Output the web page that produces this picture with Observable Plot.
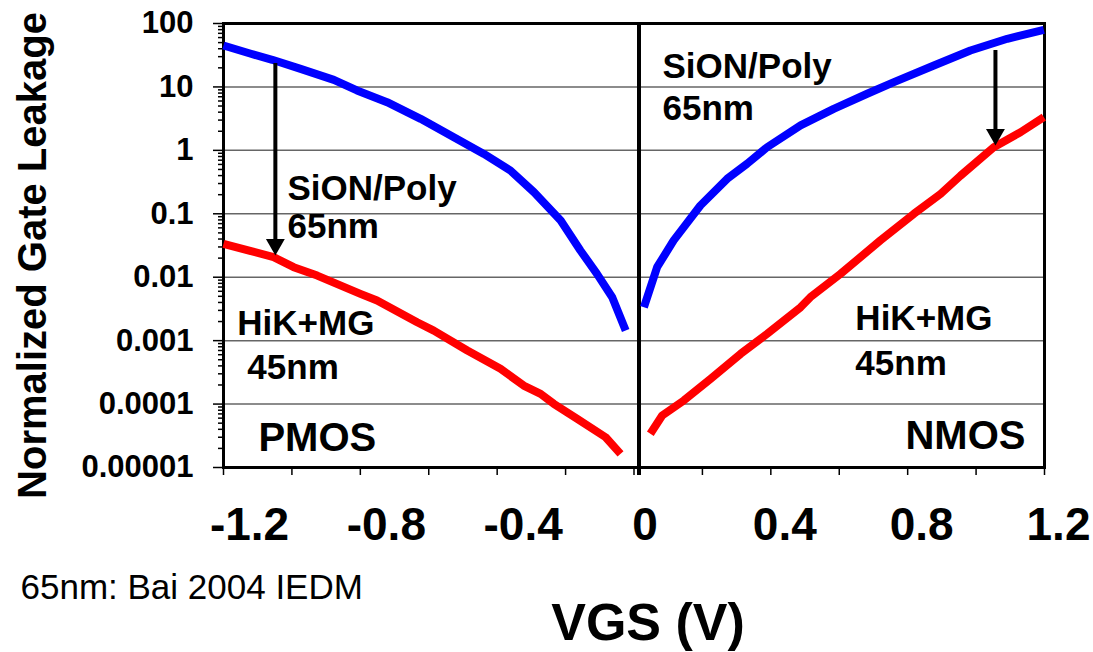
<!DOCTYPE html>
<html>
<head>
<meta charset="utf-8">
<script src="https://cdn.jsdelivr.net/npm/d3@7"></script>
<script src="https://cdn.jsdelivr.net/npm/@observablehq/plot@0.6"></script>
<style>
  html, body { margin: 0; padding: 0; background: white; }
</style>
</head>
<body>
<div id="chart"></div>
<script>
// ---- data (VGS in volts, normalized gate leakage) ----
const pmosSionVgs  = [-1.2, -1.120, -1.0575, -0.9746, -0.8775, -0.8098, -0.7218, -0.6238, -0.5267, -0.4388, -0.3609, -0.2922, -0.2143, -0.1567, -0.1082, -0.0637, -0.0243];
const pmosSionLeak = [45, 33.3, 26.8, 19.3, 12.9, 8.8, 5.75, 3.14, 1.61, 0.88, 0.48, 0.219, 0.0783, 0.0264, 0.0113, 0.00484, 0.00145];

const pmosHikVgs  = [-1.2, -1.0534, -0.9948, -0.9260, -0.7997, -0.7511, -0.6339, -0.5853, -0.4873, -0.3902, -0.3225, -0.2730, -0.2345, -0.1658, -0.0829, -0.0394];
const pmosHikLeak = [0.0336, 0.0207, 0.0144, 0.0106, 0.00547, 0.0043, 0.00195, 0.00144, 0.0007, 0.00036, 0.000196, 0.000145, 0.000101, 0.0000586, 0.00003, 0.0000164];

const nmosSionVgs  = [0.0290, 0.0675, 0.1160, 0.1457, 0.1941, 0.2723, 0.3306, 0.3890, 0.4869, 0.5838, 0.6817, 0.7599, 0.8766, 0.9834, 1.0912, 1.198];
const nmosSionLeak = [0.00336, 0.0144, 0.038, 0.0615, 0.135, 0.356, 0.614, 1.12, 2.47, 4.52, 7.8, 11.9, 21.8, 37.5, 57.4, 79.5];

const nmosHikVgs  = [0.0478, 0.0824, 0.1457, 0.2238, 0.3118, 0.3890, 0.4869, 0.5156, 0.6036, 0.7203, 0.8182, 0.8964, 0.9547, 1.0516, 1.1298, 1.198];
const nmosHikLeak = [0.000034, 0.000066, 0.000114, 0.00025, 0.00062, 0.00128, 0.00336, 0.00484, 0.0113, 0.038, 0.1, 0.206, 0.4, 1.12, 1.93, 3.33];

const yTickValues = [1e-5, 1e-4, 1e-3, 1e-2, 1e-1, 1, 10, 100];
const yTickLabels = ["0.00001", "0.0001", "0.001", "0.01", "0.1", "1", "10", "100"];
const xTickValues = [-1.2, -0.8, -0.4, 0, 0.4, 0.8, 1.2];
const xTickLabels = ["-1.2", "-0.8", "-0.4", "0", "0.4", "0.8", "1.2"];
const xMinorTicks = [-1.2, -1.0, -0.8, -0.6, -0.4, -0.2, 0, 0.2, 0.4, 0.6, 0.8, 1.0, 1.2];

// annotations: text, VGS, leakage (top of text)
const noteText = ["SiON/Poly", "65nm", "SiON/Poly", "65nm", "HiK+MG", "45nm", "HiK+MG", "45nm"];
const noteVgs  = [-1.013, -1.013, 0.0834, 0.0834, -1.1596, -1.1303, 0.6471, 0.6471];
const noteLeak = [0.40, 0.101, 33.7, 7.3, 0.00299, 0.00062, 0.00358, 0.0007];
const deviceText = ["PMOS", "NMOS"];
const deviceVgs  = [-1.0979, 0.7935];
const deviceLeak = [0.0000513, 0.0000551];

// arrows: VGS, from (SiON) -> to (HiK)
const arrowVgs  = [-1.0484, 1.0566];
const arrowFrom = [23.4, 37.5];
const arrowTo   = [0.022, 1.19];

// ---- build tables ----
const series = (vgs, leak, name) => vgs.map((v, i) => ({vgs: v, leak: leak[i], name}));
const pmosSion = series(pmosSionVgs, pmosSionLeak, "sion");
const pmosHik  = series(pmosHikVgs, pmosHikLeak, "hik");
const nmosSion = series(nmosSionVgs, nmosSionLeak, "sion");
const nmosHik  = series(nmosHikVgs, nmosHikLeak, "hik");
const notes = noteText.map((t, i) => ({t, x: noteVgs[i], y: noteLeak[i]}));
const devices = deviceText.map((t, i) => ({t, x: deviceVgs[i], y: deviceLeak[i]}));
const arrows = arrowVgs.map((x, i) => ({x, y1: arrowFrom[i], y2: arrowTo[i]}));

const minorY = [];
for (let e = -5; e < 2; e++) for (let k = 2; k <= 9; k++) minorY.push(k * Math.pow(10, e));
const gridY = yTickValues.slice(1, -1);
const yLabel = d => yTickLabels[yTickValues.findIndex(v => Math.abs(Math.log10(v) - Math.log10(d)) < 1e-6)];
const xLabel = d => xTickLabels[xTickValues.findIndex(v => Math.abs(v - d) < 1e-9)];

const FONT = "'Liberation Sans', Arial, Helvetica, sans-serif";
const lineOpts = {x: "vgs", y: "leak", strokeWidth: 8, strokeLinecap: "butt", strokeLinejoin: "round"};
const xLab = {tickSize: 0, tickPadding: 40, tickFormat: xLabel, fontSize: 46, fontWeight: "bold", label: null};

const chart = Plot.plot({
  width: 1093,
  height: 652,
  marginTop: 23,
  marginLeft: 223,
  marginRight: 49,
  marginBottom: 185,
  style: {fontFamily: FONT, background: "white", color: "black"},
  x: {domain: [-1.2, 1.2]},
  y: {type: "log", domain: [1e-5, 100]},
  marks: [
    Plot.ruleY(gridY, {stroke: "#666", strokeWidth: 1.5}),
    // axes ticks
    Plot.axisY({ticks: minorY, tickSize: 5, tickFormat: () => "", strokeWidth: 1.5, label: null}),
    Plot.axisY({ticks: yTickValues, tickSize: 10, tickPadding: 20, tickFormat: yLabel, fontSize: 31, fontWeight: "bold", strokeWidth: 1.5, label: null}),
    Plot.axisX({ticks: xMinorTicks, tickSize: 8, tickFormat: () => "", strokeWidth: 1.5, label: null}),
    Plot.axisX({...xLab, ticks: xTickValues.filter(v => v < 0), dx: 26}),
    Plot.axisX({...xLab, ticks: [0], dx: 11}),
    Plot.axisX({...xLab, ticks: xTickValues.filter(v => v > 0), dx: 14}),
    Plot.frame({stroke: "black", strokeWidth: 3}),
    Plot.ruleX([0], {stroke: "black", strokeWidth: 4, insetBottom: -8, dx: 5}),
    // curves
    Plot.line(pmosSion, {...lineOpts, stroke: "#0000ff"}),
    Plot.line(nmosSion, {...lineOpts, stroke: "#0000ff"}),
    Plot.line(pmosHik, {...lineOpts, stroke: "#ff0000"}),
    Plot.line(nmosHik, {...lineOpts, stroke: "#ff0000"}),
    // arrows
    Plot.ruleX(arrows, {x: "x", y1: "y1", y2: "y2", stroke: "black", strokeWidth: 4, insetBottom: 10}),
    Plot.dot(arrows, {x: "x", y: "y2", symbol: "triangle", rotate: 180, r: 7, fill: "black", stroke: "none", dy: -11}),
    // annotations
    Plot.text(notes, {x: "x", y: "y", text: "t", textAnchor: "start", lineAnchor: "top", fontSize: 35, fontWeight: "bold", fill: "black"}),
    Plot.text(devices, {x: "x", y: "y", text: "t", textAnchor: "start", lineAnchor: "top", fontSize: 40, fontWeight: "bold", fill: "black"}),
    // titles
    Plot.text(["Normalized Gate Leakage"], {frameAnchor: "left", text: d => d, textAnchor: "middle", rotate: -90, dx: -190, dy: 10, fontSize: 40, fontWeight: "bold", fill: "black", lineAnchor: "middle"}),
    Plot.text(["VGS (V)"], {frameAnchor: "bottom", text: d => d, textAnchor: "middle", dx: 14, dy: 156, fontSize: 52, fontWeight: "bold", fill: "black", lineAnchor: "middle"}),
    Plot.text(["65nm: Bai 2004 IEDM"], {frameAnchor: "bottom-left", text: d => d, textAnchor: "start", dx: -203, dy: 120, fontSize: 35, fill: "black", lineAnchor: "middle"})
  ]
});
document.getElementById("chart").appendChild(chart);
</script>
</body>
</html>
